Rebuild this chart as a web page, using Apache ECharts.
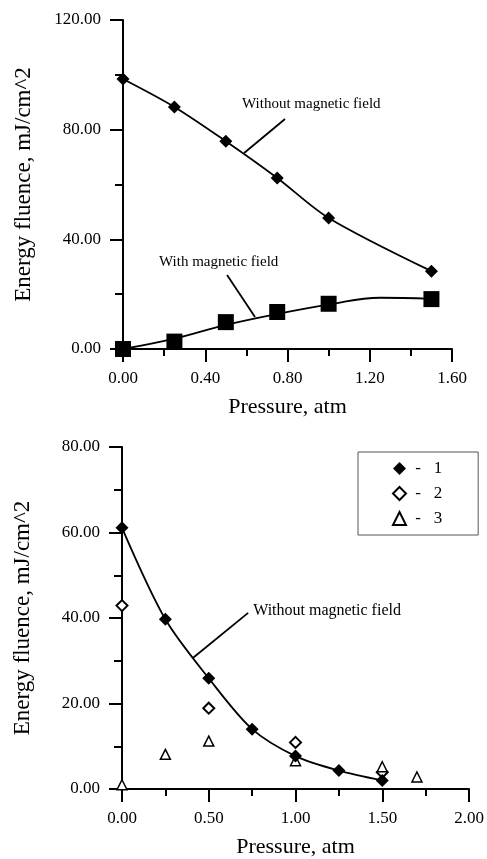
<!DOCTYPE html>
<html>
<head>
<meta charset="utf-8">
<script src="https://cdn.jsdelivr.net/npm/echarts@6/dist/echarts.min.js"></script>
<style>
  html, body { margin: 0; padding: 0; background: #fff; }
  #main { width: 487px; height: 859px; }
</style>
</head>
<body>
<div id="main"></div>
<script>
// top panel
const topX = [0, 0.25, 0.5, 0.75, 1.0, 1.5]
const topWithout = [98.5, 88.3, 75.8, 62.4, 47.8, 28.4]
const topWith = [0, 2.7, 9.8, 13.5, 16.5, 18.2]
// fitted curve for "with magnetic field"
const withFitX = [0, 0.25, 0.5, 0.75, 1.0, 1.25, 1.5]
const withFit = [0, 3.8, 8.8, 12.8, 16.2, 18.7, 18.3]

// bottom panel
const botX1 = [0, 0.25, 0.5, 0.75, 1.0, 1.25, 1.5]
const bot1 = [61.1, 39.7, 25.9, 14.0, 7.7, 4.3, 2.0]
const botX2 = [0, 0.5, 1.0, 1.5]
const bot2 = [42.9, 18.9, 10.9, 3.9]
const botX3 = [0, 0.25, 0.5, 1.0, 1.5, 1.7]
const bot3 = [1.0, 8.1, 11.2, 6.6, 5.2, 2.8]

const seriesNames = ['1', '2', '3']
const legendIcons = ['diamond', 'diamond', 'triangle']
const yTitle = 'Energy fluence, mJ/cm^2'
const xTitle = 'Pressure, atm'

// text labels with leader lines (data coordinates)
const notes = [
  { grid: 0, text: 'Without magnetic field', at: [0.579, 89.4], from: [0.589, 71.5], to: [0.788, 83.9], size: 15 },
  { grid: 0, text: 'With magnetic field', at: [0.175, 31.7], from: [0.642, 11.7], to: [0.506, 27.0], size: 15 },
  { grid: 1, text: 'Without magnetic field', at: [0.756, 41.7], from: [0.41, 30.7], to: [0.727, 41.2], size: 16 },
]

const zip = (xs, ys) => xs.map((x, i) => [x, ys[i]])
const serif = 'Liberation Serif'
const fmt = v => v.toFixed(2)

function xAxisCfg(idx, max, interval) {
  return {
    type: 'value', gridIndex: idx, min: 0, max: max, interval: interval,
    name: xTitle, nameLocation: 'middle', nameGap: 47,
    nameTextStyle: { fontFamily: serif, fontSize: 22, color: '#000' },
    axisLine: { onZero: false, lineStyle: { color: '#000', width: 2 } },
    axisTick: { length: 13, lineStyle: { color: '#000', width: 2 } },
    minorTick: { show: true, splitNumber: 2, length: 7, lineStyle: { color: '#000', width: 2 } },
    axisLabel: { formatter: fmt, fontFamily: serif, fontSize: 17, color: '#000', margin: 21 },
    splitLine: { show: false },
  }
}
function yAxisCfg(idx, max, interval) {
  return {
    type: 'value', gridIndex: idx, min: 0, max: max, interval: interval,
    name: yTitle, nameLocation: 'middle', nameGap: 88,
    nameTextStyle: { fontFamily: serif, fontSize: 23, color: '#000' },
    axisLine: { onZero: false, lineStyle: { color: '#000', width: 2 } },
    axisTick: { length: 13, lineStyle: { color: '#000', width: 2 } },
    minorTick: { show: true, splitNumber: 2, length: 8, lineStyle: { color: '#000', width: 2 } },
    axisLabel: { formatter: fmt, fontFamily: serif, fontSize: 17, color: '#000', margin: 22 },
    splitLine: { show: false },
  }
}

const option = {
  animation: false,
  backgroundColor: '#fff',
  grid: [
    { left: 123, top: 20, width: 329, height: 329 },
    { left: 122, top: 447, width: 347, height: 347 },
  ],
  xAxis: [xAxisCfg(0, 1.6, 0.4), xAxisCfg(1, 2.0, 0.5)],
  yAxis: [yAxisCfg(0, 120, 40), yAxisCfg(1, 80, 20)],
  legend: {
    data: seriesNames.map((n, i) => ({ name: n, icon: legendIcons[i] })),
    orient: 'vertical',
    left: 358, top: 452,
    padding: [8, 36, 8, 34],
    itemGap: 8,
    itemWidth: 13, itemHeight: 13,
    borderColor: '#555', borderWidth: 1,
    formatter: name => ' -   ' + name,
    textStyle: { fontFamily: serif, fontSize: 17, color: '#000' },
  },
  series: [
    {
      name: 'without', type: 'line', xAxisIndex: 0, yAxisIndex: 0,
      data: zip(topX, topWithout), smooth: 0.3,
      symbol: 'diamond', symbolSize: 13,
      itemStyle: { color: '#000' }, lineStyle: { color: '#000', width: 1.8 },
    },
    {
      name: 'withFit', type: 'line', xAxisIndex: 0, yAxisIndex: 0,
      data: zip(withFitX, withFit), smooth: 0.4, showSymbol: false,
      lineStyle: { color: '#000', width: 1.8 },
    },
    {
      name: 'with', type: 'scatter', xAxisIndex: 0, yAxisIndex: 0,
      data: zip(topX, topWith), symbol: 'rect', symbolSize: 16,
      itemStyle: { color: '#000', opacity: 1 },
    },
    {
      name: '1', type: 'line', xAxisIndex: 1, yAxisIndex: 1,
      data: zip(botX1, bot1), smooth: 0.3,
      symbol: 'diamond', symbolSize: 13,
      itemStyle: { color: '#000' }, lineStyle: { color: '#000', width: 1.8 },
    },
    {
      name: '2', type: 'scatter', xAxisIndex: 1, yAxisIndex: 1,
      data: zip(botX2, bot2), symbol: 'diamond', symbolSize: 11,
      itemStyle: { color: '#fff', borderColor: '#000', borderWidth: 2, opacity: 1 },
    },
    {
      name: '3', type: 'scatter', xAxisIndex: 1, yAxisIndex: 1,
      data: zip(botX3, bot3), symbol: 'triangle', symbolSize: 10,
      itemStyle: { color: '#fff', borderColor: '#000', borderWidth: 1.5, opacity: 1 },
    },
  ],
}

const chart = echarts.init(document.getElementById('main'))
chart.setOption(option)

// place the annotation texts and leader lines from data coordinates
const graphics = []
notes.forEach(n => {
  const t = chart.convertToPixel({ gridIndex: n.grid }, n.at)
  const a = chart.convertToPixel({ gridIndex: n.grid }, n.from)
  const b = chart.convertToPixel({ gridIndex: n.grid }, n.to)
  graphics.push({
    type: 'line',
    shape: { x1: a[0], y1: a[1], x2: b[0], y2: b[1] },
    style: { stroke: '#000', lineWidth: 1.8 },
  })
  graphics.push({
    type: 'text',
    style: {
      text: n.text, x: t[0], y: t[1], fill: '#000',
      font: n.size + 'px "Liberation Serif"', verticalAlign: 'middle', align: 'left',
    },
  })
})
chart.setOption({ graphic: graphics })
</script>
</body>
</html>
